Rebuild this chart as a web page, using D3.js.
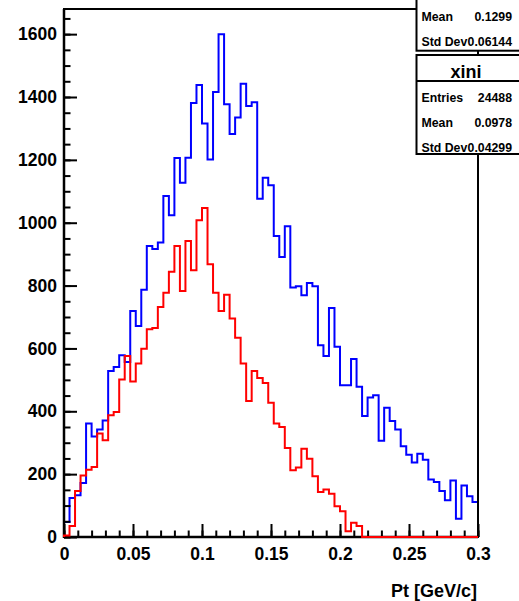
<!DOCTYPE html>
<html>
<head>
<meta charset="utf-8">
<script src="https://cdn.jsdelivr.net/npm/d3@7"></script>
<style>
  html, body { margin: 0; padding: 0; background: #fff; }
  svg { display: block; font-family: "Liberation Sans", Arial, Helvetica, sans-serif; font-weight: bold; }
</style>
</head>
<body>
<svg id="chart" width="519" height="601"></svg>
<script>
// ---- data ----
const xMin = 0, xMax = 0.3, nBins = 75;
const blueCounts = [48,124,133,172,361,320,342,371,528,541,
  578,557,719,671,787,926,916,937,1085,1024,
  1206,1127,1207,1381,1438,1316,1201,1416,1600,1377,
  1282,1335,1442,1371,1383,1076,1143,1119,958,891,
  989,794,798,769,808,798,610,576,729,605,
  483,483,566,478,385,444,451,306,411,369,
  342,289,262,237,265,246,183,175,146,117,
  180,58,164,130,111];
const redCounts = [5,35,146,196,214,223,329,308,387,398,
  501,576,495,552,599,661,665,732,777,844,
  926,783,942,849,1008,1047,868,777,719,771,
  695,634,552,433,528,506,490,427,361,350,
  283,212,221,281,249,193,143,151,138,98,
  82,18,45,35,0,0,0,0,0,0,
  0,0,0,0,0,0,0,0,0,0,
  0,0,0,0,0];
const xTicks = [0, 0.05, 0.1, 0.15, 0.2, 0.25, 0.3];
const xTickLabels = ["0", "0.05", "0.1", "0.15", "0.2", "0.25", "0.3"];
const yTicks = [0, 200, 400, 600, 800, 1000, 1200, 1400, 1600];
const yMax = 1680;
const xTitle = "Pt [GeV/c]";
const stats1 = [["Mean", "0.1299"], ["Std Dev", "0.06144"]];
const stats2Title = "xini";
const stats2 = [["Entries", "24488"], ["Mean", "0.0978"], ["Std Dev", "0.04299"]];

// ---- layout ----
const L = 64, R = 478, T = 9, B = 537;
const svg = d3.select("#chart");
const x = d3.scaleLinear().domain([xMin, xMax]).range([L, R]);
const y = d3.scaleLinear().domain([0, yMax]).range([B, T]);

const binW = (xMax - xMin) / nBins;
function histPath(counts) {
  const pts = [[xMin, 0]];
  counts.forEach((c, i) => pts.push([xMin + i * binW, c]));
  pts.push([xMax, counts[counts.length - 1]]);
  pts.push([xMax, 0]);
  return d3.line().x(d => x(d[0])).y(d => y(d[1])).curve(d3.curveStepAfter)(pts);
}

// histograms
svg.append("path").attr("d", histPath(blueCounts))
  .attr("fill", "none").attr("stroke", "#0000ff").attr("stroke-width", 2);

// frame
svg.append("rect").attr("x", L).attr("y", T).attr("width", R - L).attr("height", B - T)
  .attr("fill", "none").attr("stroke", "#000").attr("stroke-width", 2);

// axes
const yMinor = d3.range(0, yMax + 1, 50);
const gY = svg.append("g").attr("transform", `translate(${L},0)`);
gY.call(d3.axisLeft(y).tickValues(yMinor).tickSize(-6.5).tickFormat(""));
gY.call(g => g.selectAll(".domain").remove());
const gY2 = svg.append("g").attr("transform", `translate(${L},0)`);
gY2.call(d3.axisLeft(y).tickValues(yTicks).tickSize(-13).tickPadding(7).tickFormat(d3.format("d")));
gY2.select(".domain").remove();

const xMinor = d3.range(0, 31).map(i => i * 0.01);
const gX = svg.append("g").attr("transform", `translate(0,${B})`);
gX.call(d3.axisBottom(x).tickValues(xMinor).tickSize(-6.5).tickFormat(""));
gX.select(".domain").remove();
const gX2 = svg.append("g").attr("transform", `translate(0,${B})`);
gX2.call(d3.axisBottom(x).tickValues(xTicks).tickSize(-13).tickPadding(11)
  .tickFormat((d, i) => xTickLabels[i]));
gX2.select(".domain").remove();

svg.selectAll(".tick line").attr("stroke", "#000").attr("stroke-width", 2);
svg.selectAll(".tick text").attr("fill", "#000").style("font-size", "17.5px")
  .style("font-family", "'Liberation Sans', Arial, sans-serif").style("font-weight", "bold");

// axis line on top
svg.append("line").attr("x1", L).attr("x2", L).attr("y1", T).attr("y2", B + 1)
  .attr("stroke", "#000").attr("stroke-width", 2.5);
svg.append("line").attr("x1", L).attr("x2", R).attr("y1", B).attr("y2", B)
  .attr("stroke", "#000").attr("stroke-width", 2.5);

svg.append("path").attr("d", histPath(redCounts))
  .attr("fill", "none").attr("stroke", "#ff0000").attr("stroke-width", 2);

// axis title
svg.append("text").attr("x", 477).attr("y", 597).attr("text-anchor", "end")
  .style("font-size", "18px").text(xTitle);

// stats boxes
function statsBox(top, bottom, title, rows, rowBase) {
  const g = svg.append("g");
  g.append("rect").attr("x", 416.5).attr("y", top).attr("width", 110).attr("height", bottom - top)
    .attr("fill", "#fff").attr("stroke", "#000").attr("stroke-width", 2);
  if (title) {
    g.append("text").attr("x", 466).attr("y", top + 22.5).attr("text-anchor", "middle")
      .style("font-size", "18px").text(title);
    g.append("line").attr("x1", 416.5).attr("x2", 526).attr("y1", top + 26).attr("y2", top + 26)
      .attr("stroke", "#000").attr("stroke-width", 2);
  }
  rows.forEach((r, i) => {
    g.append("text").attr("x", 421.5).attr("y", rowBase + i * 25).style("font-size", "12.3px").text(r[0]);
    g.append("text").attr("x", 512).attr("y", rowBase + i * 25).attr("text-anchor", "end")
      .style("font-size", "12.3px").text(r[1]);
  });
}
statsBox(-60, 50.7, null, stats1, 20.7);
statsBox(55, 154, stats2Title, stats2, 101.5);
</script>
</body>
</html>
